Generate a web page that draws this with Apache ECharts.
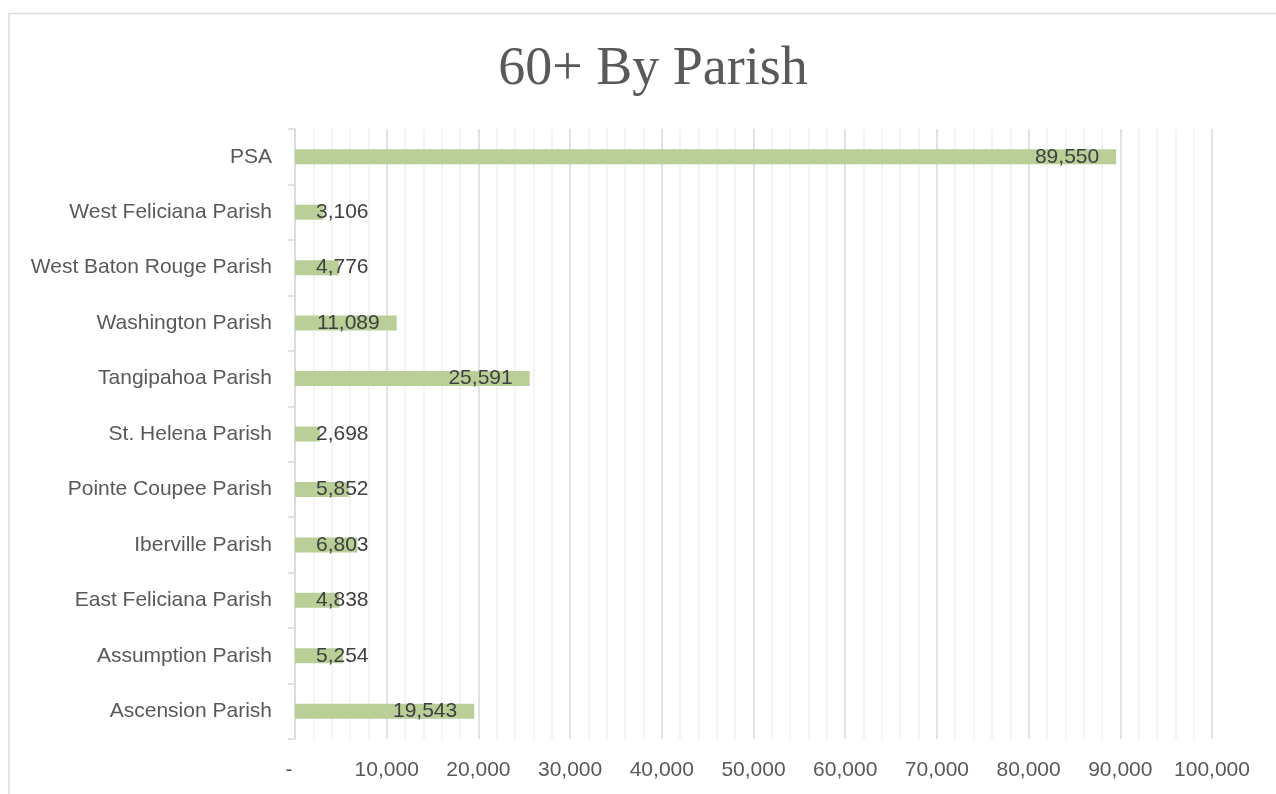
<!DOCTYPE html>
<html>
<head>
<meta charset="utf-8">
<title>60+ By Parish</title>
<script src="https://cdn.jsdelivr.net/npm/echarts@6/dist/echarts.min.js"></script>
<style>
  html, body { margin: 0; padding: 0; background: #ffffff; }
  #chart { width: 1276px; height: 794px; }
</style>
</head>
<body>
<div id="chart"></div>
<script>
// Population aged 60+ per parish (bottom to top on the category axis)
const parishes = [
  'Ascension Parish',
  'Assumption Parish',
  'East Feliciana Parish',
  'Iberville Parish',
  'Pointe Coupee Parish',
  'St. Helena Parish',
  'Tangipahoa Parish',
  'Washington Parish',
  'West Baton Rouge Parish',
  'West Feliciana Parish',
  'PSA'
];
const population60Plus = [19543, 5254, 4838, 6803, 5852, 2698, 25591, 11089, 4776, 3106, 89550];

// Value axis range and ticks
const xMin = 0;
const xMax = 100000;
const xInterval = 10000;

const FONT = "'Liberation Sans', Arial, sans-serif";
const LABEL_SIZE = 21;

const grid = { left: 295, right: 64, top: 129, bottom: 55 };
const plotWidth = 1276 - grid.left - grid.right;

const fmt = v => v.toLocaleString('en-US');

// Labels sit inside the bar end; when the bar is too short they start near the axis.
const ctx = document.createElement('canvas').getContext('2d');
ctx.font = LABEL_SIZE + 'px ' + FONT;
const endGap = 17;
const startGap = 21;
const barData = population60Plus.map(v => {
  const barLen = (v - xMin) / (xMax - xMin) * plotWidth;
  const textW = ctx.measureText(fmt(v)).width;
  const fitsInside = barLen - endGap - textW >= startGap;
  return {
    value: v,
    label: fitsInside
      ? { position: 'insideRight', distance: endGap }
      : { position: 'insideLeft', distance: startGap }
  };
});

const chart = echarts.init(document.getElementById('chart'), null, { renderer: 'canvas' });

chart.setOption({
  backgroundColor: '#ffffff',
  animation: false,
  title: {
    text: '60+ By Parish',
    left: 648,
    top: 38,
    textAlign: 'center',
    textStyle: {
      fontFamily: "'Liberation Serif', 'DejaVu Serif', serif",
      fontSize: 54,
      fontWeight: 'normal',
      color: '#595959'
    }
  },
  graphic: [{
    type: 'rect',
    shape: { x: 9, y: 13.5, width: 1300, height: 800 },
    style: { fill: 'none', stroke: '#d9d9d9', lineWidth: 1.5 },
    silent: true,
    z: -1
  }],
  grid: grid,
  xAxis: {
    type: 'value',
    min: xMin,
    max: xMax,
    interval: xInterval,
    axisLine: { show: false },
    axisTick: { show: false },
    axisLabel: {
      color: '#595959',
      fontFamily: FONT,
      fontSize: LABEL_SIZE,
      margin: 21,
      formatter: v => (v === 0 ? '{dash|-}' : fmt(v)),
      rich: {
        dash: {
          color: '#595959',
          fontFamily: FONT,
          fontSize: LABEL_SIZE,
          padding: [0, 12, 0, 0]
        }
      }
    },
    splitLine: { show: true, lineStyle: { color: '#d9d9d9', width: 1.5 } },
    minorTick: { show: false, splitNumber: 5 },
    minorSplitLine: { show: true, lineStyle: { color: '#f0f0f0', width: 1.5 } }
  },
  yAxis: {
    type: 'category',
    data: parishes,
    boundaryGap: true,
    axisLine: { show: true, lineStyle: { color: '#d9d9d9', width: 1.5 } },
    axisTick: { show: true, length: 7, lineStyle: { color: '#d9d9d9', width: 1.5 } },
    axisLabel: {
      color: '#595959',
      fontFamily: FONT,
      fontSize: LABEL_SIZE,
      margin: 23
    },
    splitLine: { show: false }
  },
  series: [{
    type: 'bar',
    data: barData,
    barWidth: 15,
    itemStyle: { color: '#b9cf97' },
    label: {
      show: true,
      color: '#404040',
      fontFamily: FONT,
      fontSize: LABEL_SIZE,
      formatter: p => fmt(p.value)
    }
  }]
});
</script>
</body>
</html>
